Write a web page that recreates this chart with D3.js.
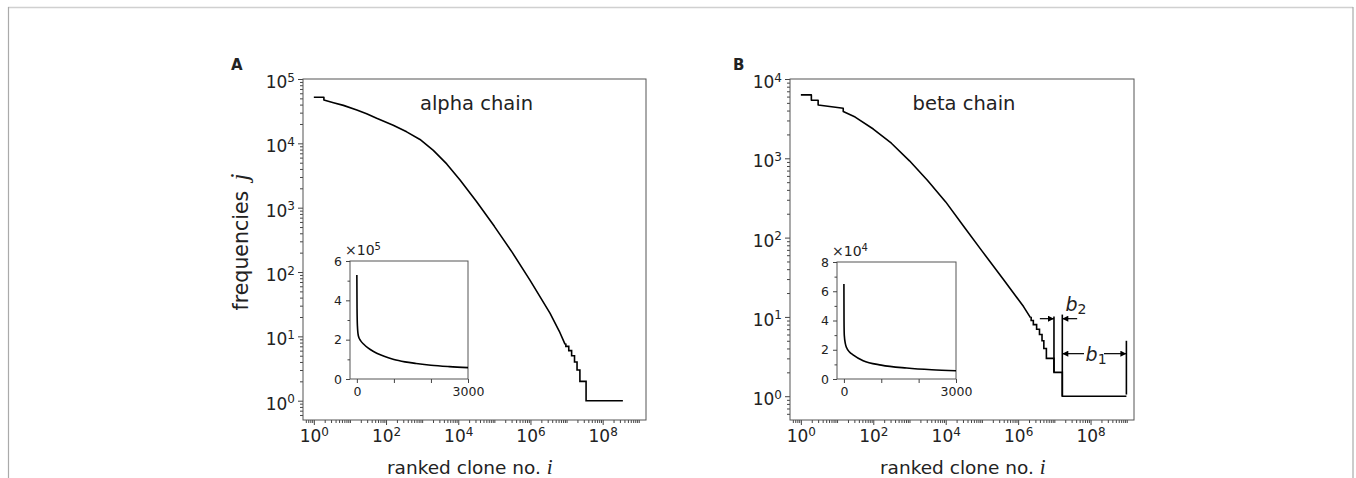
<!DOCTYPE html>
<html>
<head>
<meta charset="utf-8">
<script src="https://cdn.jsdelivr.net/npm/d3@7"></script>
<style>
  body { margin: 0; background: #fff; }
  text { font-family: "DejaVu Sans", sans-serif; fill: #222; }
  .math { font-family: "Liberation Serif", serif; font-style: italic; }
</style>
</head>
<body>
<div id="chart"></div>
<script>
// values
// alpha chain, smooth head of the rank-frequency curve
var alphaRank = [1, 1.9, 1.9, 3.5, 6.6, 15.5, 29, 55, 158, 372, 870, 2040, 4790, 11200, 31600, 1e5, 316000, 977000, 3.47e6, 6.3e6, 9.1e6];
var alphaFreq = [52000, 52000, 47000, 42700, 38900, 33100, 28800, 24500, 19100, 15100, 11500, 7760, 4790, 2690, 1260, 513, 200, 74, 22.9, 12, 7.5];
// alpha chain, integer staircase tail
var alphaTailRank = [9.1e6, 9.55e6, 1.15e7, 1.38e7, 1.66e7, 1.95e7, 2.34e7, 3.47e7, 3.63e8];
var alphaTailFreq = [7.5, 7, 6, 5, 4, 3, 2, 1, 1];

// beta chain
var betaRank = [1, 1.95, 1.95, 3.0, 3.0, 14.8, 14.8, 31.6, 100, 316, 1000, 3160, 1e4, 31600, 1e5, 398000, 1.41e6, 2.19e6];
var betaFreq = [6300, 6300, 5400, 5400, 4700, 4270, 3890, 3310, 2340, 1550, 930, 525, 282, 138, 68, 29.5, 13.5, 9.8];
var betaTailRank = [2.19e6, 2.29e6, 2.63e6, 3.24e6, 3.89e6, 4.57e6, 5.13e6, 6.03e6, 9.77e6, 1.66e7, 9.77e8];
var betaTailFreq = [9.8, 9, 8, 7, 6, 5, 4, 3, 2, 1, 1];

// insets (linear scale, first 3000 ranks)
var insetAlphaX = [0, 5, 15, 40, 100, 180, 300, 450, 650, 850, 1000, 1300, 1600, 2000, 2500, 3000];
var insetAlphaY = [5.29, 3.6, 2.7, 2.2, 1.95, 1.78, 1.58, 1.40, 1.22, 1.08, 0.99, 0.87, 0.79, 0.70, 0.63, 0.58];
var insetBetaX = [0, 3, 10, 40, 70, 150, 245, 515, 1000, 1680, 2350, 3000];
var insetBetaY = [6.5, 4.0, 3.0, 2.4, 2.15, 1.85, 1.65, 1.25, 0.95, 0.75, 0.63, 0.56];

var alphaYTicks = [1, 10, 100, 1e3, 1e4, 1e5];
var betaYTicks = [1, 10, 100, 1e3, 1e4];
var xMajor = [1, 1e2, 1e4, 1e6, 1e8];

var svgWidth = 1356, svgHeight = 478;
var svg = d3.select("#chart").append("svg")
  .attr("width", svgWidth)
  .attr("height", svgHeight);

// outer frame of the figure
svg.append("line").attr("x1", 8).attr("x2", 1353).attr("y1", 7.5).attr("y2", 7.5)
  .attr("stroke", "#d0d0d0").attr("stroke-width", 1.5);
svg.append("line").attr("x1", 8.5).attr("x2", 8.5).attr("y1", 7).attr("y2", svgHeight)
  .attr("stroke", "#aaa").attr("stroke-width", 1.2);
svg.append("line").attr("x1", 1353).attr("x2", 1353).attr("y1", 7).attr("y2", svgHeight)
  .attr("stroke", "#aaa").attr("stroke-width", 1.2);

// arrow head
var defs = svg.append("defs");
defs.append("marker")
  .attr("id", "arrow")
  .attr("viewBox", "0 0 10 10")
  .attr("refX", 10).attr("refY", 5)
  .attr("markerWidth", 7).attr("markerHeight", 6)
  .attr("markerUnits", "userSpaceOnUse")
  .attr("orient", "auto")
  .append("path").attr("d", "M0,0L10,5L0,10z").attr("fill", "#000");

function logMinors(lo, hi) {
  var out = [];
  for (var k = -1; k < 10; k++) {
    for (var m = 1; m < 10; m++) {
      var v = m * Math.pow(10, k);
      if (v >= lo && v <= hi) out.push(v);
    }
  }
  return out;
}

// replace a tick label with 10 + superscript exponent
function powerLabel(text, supSize, raise) {
  text.each(function(d) {
    var t = d3.select(this).text(null);
    t.append("tspan").text("10");
    t.append("tspan").attr("font-size", supSize).attr("dy", -raise)
      .text(Math.round(Math.log10(d)));
  });
}

function drawPanel(p) {
  var x = d3.scaleLog().domain([Math.pow(10, -0.3), Math.pow(10, 9.2)]).range([p.left, p.right]);
  var y = d3.scaleLog().domain([Math.pow(10, -0.3), p.yMax]).range([p.bottom, p.top]);
  var g = svg.append("g");

  // minor ticks
  var xMinor = logMinors(x.domain()[0], x.domain()[1]).filter(v => xMajor.indexOf(v) < 0);
  g.append("g").attr("transform", `translate(0,${p.bottom})`)
    .call(d3.axisBottom(x).tickValues(xMinor).tickSize(3).tickFormat(() => ""))
    .call(a => a.select(".domain").remove())
    .selectAll("line").attr("stroke", "#444");
  var yMinor = logMinors(y.domain()[0], y.domain()[1]).filter(v => p.yTicks.indexOf(v) < 0);
  g.append("g").attr("transform", `translate(${p.left},0)`)
    .call(d3.axisLeft(y).tickValues(yMinor).tickSize(3).tickFormat(() => ""))
    .call(a => a.select(".domain").remove())
    .selectAll("line").attr("stroke", "#444");

  // major ticks + labels
  var xa = g.append("g").attr("transform", `translate(0,${p.bottom})`)
    .call(d3.axisBottom(x).tickValues(xMajor).tickSize(5).tickPadding(5).tickFormat(() => ""));
  xa.select(".domain").remove();
  xa.selectAll("line").attr("stroke", "#444");
  xa.selectAll("text").attr("font-size", 17).attr("fill", "#222")
    .attr("font-family", "DejaVu Sans").call(powerLabel, 12, 6.5);

  var ya = g.append("g").attr("transform", `translate(${p.left},0)`)
    .call(d3.axisLeft(y).tickValues(p.yTicks).tickSize(5).tickPadding(3).tickFormat(() => ""));
  ya.select(".domain").remove();
  ya.selectAll("line").attr("stroke", "#444");
  ya.selectAll("text").attr("font-size", 17).attr("fill", "#222").attr("dy", "0.5em")
    .attr("font-family", "DejaVu Sans").call(powerLabel, 12, 6.5);

  // frame of the axes
  g.append("rect")
    .attr("x", p.left).attr("y", p.top)
    .attr("width", p.right - p.left).attr("height", p.bottom - p.top)
    .attr("fill", "none").attr("stroke", "#555").attr("stroke-width", 1);

  // curve
  var head = d3.line().x(d => x(d[0])).y(d => y(d[1]));
  g.append("path")
    .datum(p.rank.map((r, i) => [r, p.freq[i]]))
    .attr("d", head)
    .attr("fill", "none").attr("stroke", "#000").attr("stroke-width", 1.6)
    .attr("stroke-linejoin", "round");
  var tail = d3.line().x(d => x(d[0])).y(d => y(d[1])).curve(d3.curveStepAfter);
  g.append("path")
    .datum(p.tailRank.map((r, i) => [r, p.tailFreq[i]]))
    .attr("d", tail)
    .attr("fill", "none").attr("stroke", "#000").attr("stroke-width", 1.6);

  g.append("text")
    .attr("x", (p.left + p.right) / 2 + 2).attr("y", 110)
    .attr("text-anchor", "middle").attr("font-size", 19.5)
    .text(p.title);

  g.append("text")
    .attr("x", p.letterX).attr("y", 69.5)
    .attr("font-family", "Liberation Sans").attr("font-weight", "bold")
    .attr("font-size", 15).attr("fill", "#000")
    .text(p.letter);

  var xl = g.append("text")
    .attr("x", p.xLabelX).attr("y", 474)
    .attr("font-size", 18.5);
  xl.append("tspan").text("ranked clone no. ");
  xl.append("tspan").attr("class", "math").attr("font-size", 21).text("i");

  return { x: x, y: y, g: g };
}

function drawInset(p) {
  var x = d3.scaleLinear().domain([-185, 3000]).range([p.left, p.right]);
  var y = d3.scaleLinear().domain([0, p.yMax]).range([p.bottom, p.top]);
  var g = svg.append("g");
  g.append("rect")
    .attr("x", p.left).attr("y", p.top)
    .attr("width", p.right - p.left).attr("height", p.bottom - p.top)
    .attr("fill", "#fff").attr("stroke", "#555").attr("stroke-width", 1);

  var ya = g.append("g").attr("transform", `translate(${p.left},0)`)
    .call(d3.axisLeft(y).tickValues(p.yTicks).tickSize(4).tickPadding(4).tickFormat(d3.format("d")));
  ya.select(".domain").remove();
  ya.selectAll("line").attr("stroke", "#444");
  ya.selectAll("text").attr("font-size", 12.5).attr("fill", "#333").attr("font-family", "DejaVu Sans");
  var ym = g.append("g").attr("transform", `translate(${p.left},0)`)
    .call(d3.axisLeft(y).tickValues(p.yMinor).tickSize(2.5).tickFormat(() => ""));
  ym.select(".domain").remove();
  ym.selectAll("line").attr("stroke", "#444");

  var xa = g.append("g").attr("transform", `translate(0,${p.bottom})`)
    .call(d3.axisBottom(x).tickValues([0, 1000, 2000, 3000]).tickSize(4).tickPadding(4.5)
      .tickFormat(d => (d === 0 || d === 3000) ? d : ""));
  xa.select(".domain").remove();
  xa.selectAll("line").attr("stroke", "#444");
  xa.selectAll("text").attr("font-size", 12.5).attr("fill", "#333").attr("font-family", "DejaVu Sans");

  g.append("path")
    .datum(p.xs.map((v, i) => [v, p.ys[i]]))
    .attr("d", d3.line().x(d => x(d[0])).y(d => y(d[1])).curve(d3.curveMonotoneX))
    .attr("fill", "none").attr("stroke", "#000").attr("stroke-width", 1.6);

  var m = g.append("text")
    .attr("x", p.left - 5).attr("y", p.top - 6)
    .attr("font-family", "Liberation Serif").attr("font-size", 14);
  m.append("tspan").text("\u00d710");
  m.append("tspan").attr("font-size", 10).attr("dy", -5).text(p.exp);
}

var A = drawPanel({
  left: 303, right: 646, top: 79, bottom: 420, yMax: 1e5, yTicks: alphaYTicks,
  rank: alphaRank, freq: alphaFreq, tailRank: alphaTailRank, tailFreq: alphaTailFreq,
  title: "alpha chain", letter: "A", letterX: 231, xLabelX: 387
});
var B = drawPanel({
  left: 790, right: 1134, top: 79, bottom: 420, yMax: 1e4, yTicks: betaYTicks,
  rank: betaRank, freq: betaFreq, tailRank: betaTailRank, tailFreq: betaTailFreq,
  title: "beta chain", letter: "B", letterX: 733, xLabelX: 880
});

// y label (panel A only)
var yl = svg.append("text")
  .attr("transform", "translate(248,242) rotate(-90)")
  .attr("text-anchor", "middle").attr("font-size", 20.5);
yl.append("tspan").text("frequencies\u2002");
yl.append("tspan").attr("class", "math").attr("font-size", 25).text("j");

drawInset({ left: 350, right: 468, top: 261, bottom: 379, yMax: 6,
  yTicks: [0, 2, 4, 6], yMinor: [1, 3, 5], xs: insetAlphaX, ys: insetAlphaY, exp: "5" });
drawInset({ left: 837, right: 956, top: 262, bottom: 379, yMax: 8,
  yTicks: [0, 2, 4, 6, 8], yMinor: [1, 3, 5, 7], xs: insetBetaX, ys: insetBetaY, exp: "4" });

// b1 / b2 annotations on panel B
var bx = B.x, by = B.y, ag = B.g;
function vline(r, f0, f1) {
  ag.append("line").attr("x1", bx(r)).attr("x2", bx(r)).attr("y1", by(f0)).attr("y2", by(f1))
    .attr("stroke", "#000").attr("stroke-width", 1.6);
}
function arrow(r0, r1, f) {
  ag.append("line").attr("x1", bx(r0)).attr("x2", bx(r1)).attr("y1", by(f)).attr("y2", by(f))
    .attr("stroke", "#000").attr("stroke-width", 1.2).attr("marker-end", "url(#arrow)");
}
vline(9.77e6, 2, 10.1);
vline(1.66e7, 1, 10.7);
vline(9.77e8, 1.05, 5.0);
arrow(3.98e6, 9.77e6, 9.5);
arrow(4.27e7, 1.66e7, 9.5);
arrow(6.6e7, 1.66e7, 3.44);
arrow(2.35e8, 9.77e8, 3.44);

function bLabel(r, f, sub) {
  var t = ag.append("text").attr("x", bx(r)).attr("y", by(f))
    .attr("font-family", "Liberation Serif").attr("font-size", 19).attr("fill", "#000");
  t.append("tspan").attr("font-style", "italic").text("b");
  t.append("tspan").attr("font-size", 14).attr("dy", 3).text(sub);
}
bLabel(2.04e7, 11.7, "2");
bLabel(7.3e7, 2.76, "1");
</script>
</body>
</html>
